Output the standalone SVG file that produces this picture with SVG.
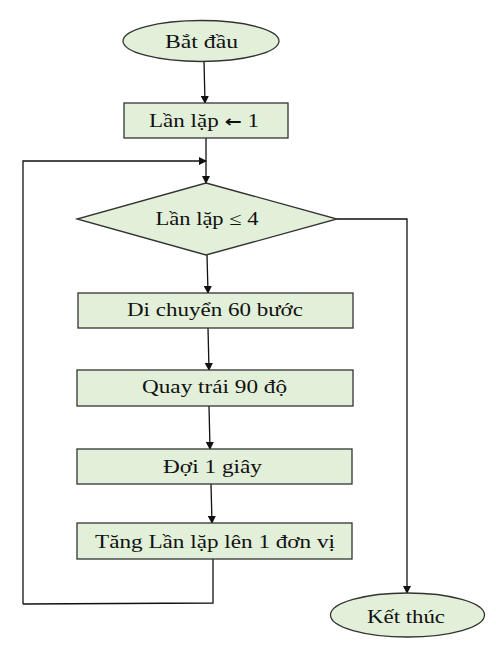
<svg xmlns="http://www.w3.org/2000/svg" width="496" height="655" viewBox="0 0 496 655">
<style>
.shape{fill:#E2EFD9;stroke:#333;stroke-width:1.3}
.t{font-family:"Liberation Serif","Times New Roman",serif;font-size:18px;fill:#111;text-anchor:middle}
.c{fill:none;stroke:#111;stroke-width:1.3}
</style>
<defs>
<marker id="ah" markerWidth="8" markerHeight="8" refX="7" refY="4" orient="auto" markerUnits="userSpaceOnUse">
<path d="M0,0 L8,4 L0,8 Z" fill="#111"/>
</marker>
</defs>
<rect width="496" height="655" fill="#fff"/>
<g id="connectors">
<path class="c" d="M204,61 L205,103" marker-end="url(#ah)"/>
<path class="c" d="M206,138 L206,183" marker-end="url(#ah)"/>
<path class="c" d="M23,604 L23,161 L206,161" marker-end="url(#ah)"/>
<path class="c" d="M207,255 L208,293" marker-end="url(#ah)"/>
<path class="c" d="M208,328 L209,370" marker-end="url(#ah)"/>
<path class="c" d="M209,406 L210,449" marker-end="url(#ah)"/>
<path class="c" d="M211,484 L212,523" marker-end="url(#ah)"/>
<path class="c" d="M213,559 L213,603 L23,604"/>
<path class="c" d="M337,219 L407,219 L407,593" marker-end="url(#ah)"/>
</g>
<g id="start">
<ellipse class="shape" cx="201" cy="41" rx="78" ry="20.5"/>
<text class="t" x="201.5" y="48" textLength="73" lengthAdjust="spacingAndGlyphs">Bắt đầu</text>
</g>
<g id="init">
<rect class="shape" x="124" y="103" width="164" height="35"/>
<text class="t" x="204" y="127" textLength="110" lengthAdjust="spacingAndGlyphs">Lần lặp <tspan font-family="DejaVu Sans, sans-serif" font-weight="bold" font-size="16">←</tspan> 1</text>
</g>
<g id="cond">
<polygon class="shape" points="206,183 337,219 206,255 77,219"/>
<text class="t" x="207" y="225" textLength="103" lengthAdjust="spacingAndGlyphs">Lần lặp ≤ 4</text>
</g>
<g id="move">
<rect class="shape" x="78" y="293" width="275" height="35"/>
<text class="t" x="215" y="316" textLength="176" lengthAdjust="spacingAndGlyphs">Di chuyển 60 bước</text>
</g>
<g id="turn">
<rect class="shape" x="77" y="370" width="276" height="36"/>
<text class="t" x="214.5" y="393" textLength="145" lengthAdjust="spacingAndGlyphs">Quay trái 90 độ</text>
</g>
<g id="wait">
<rect class="shape" x="77" y="449" width="275" height="35"/>
<text class="t" x="212.5" y="473" textLength="99" lengthAdjust="spacingAndGlyphs">Đợi 1 giây</text>
</g>
<g id="inc">
<rect class="shape" x="77" y="523" width="275" height="36"/>
<text class="t" x="215" y="548" textLength="240" lengthAdjust="spacingAndGlyphs">Tăng Lần lặp lên 1 đơn vị</text>
</g>
<g id="end">
<ellipse class="shape" cx="407.5" cy="615" rx="77" ry="22"/>
<text class="t" x="406" y="623" textLength="78" lengthAdjust="spacingAndGlyphs">Kết thúc</text>
</g>
</svg>
